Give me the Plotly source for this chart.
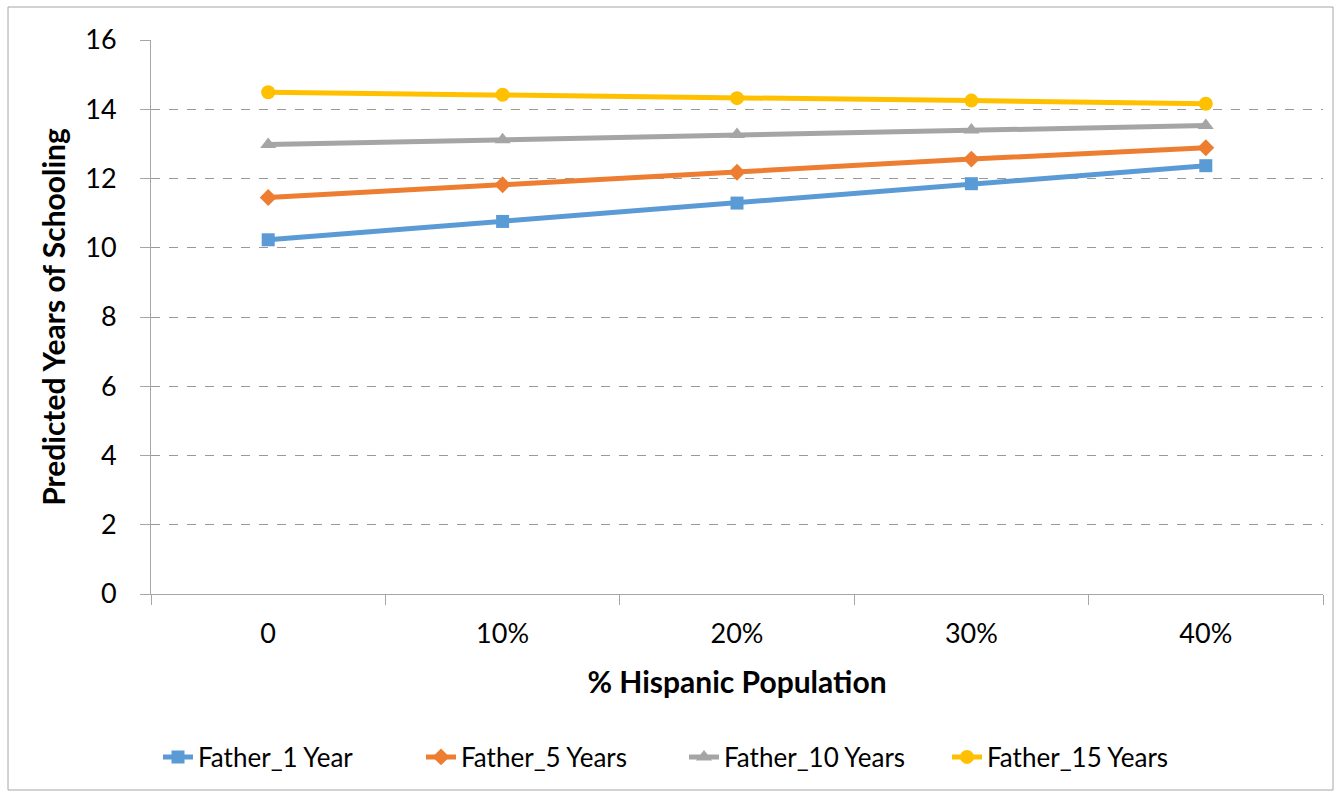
import plotly.graph_objects as go

categories = ["0", "10%", "20%", "30%", "40%"]
father_1 = [10.23, 10.76, 11.29, 11.85, 12.37]
father_5 = [11.45, 11.82, 12.18, 12.56, 12.89]
father_10 = [12.98, 13.12, 13.27, 13.40, 13.53]
father_15 = [14.49, 14.42, 14.32, 14.25, 14.16]

series = [
    ("Father_1 Year", father_1, "#5B9BD5", "square", 13),
    ("Father_5 Years", father_5, "#ED7D31", "diamond", 13),
    ("Father_10 Years", father_10, "#A5A5A5", "triangle-up", 14),
    ("Father_15 Years", father_15, "#FFC000", "circle", 14),
]

FONT = "Lato, Carlito, Calibri, sans-serif"

fig = go.Figure()
for name, vals, color, sym, size in series:
    fig.add_trace(go.Scatter(
        x=categories, y=vals, name=name, mode="lines+markers",
        line=dict(color=color, width=5),
        marker=dict(symbol=sym, size=size, color=color),
    ))

W, H = 1335, 793
L, R, T, B = 151, 12, 40, 199
pw, ph = W - L - R, H - T - B

def px(x):
    return (x - L) / pw

def py(y):
    return (H - B - y) / ph

fig.update_layout(
    width=W, height=H,
    margin=dict(l=L, r=R, t=T, b=B, autoexpand=False),
    paper_bgcolor="white", plot_bgcolor="white",
    font=dict(family=FONT, size=27, color="black"),
    showlegend=True,
    legend=dict(orientation="h", x=px(684), xanchor="center", y=py(757), yanchor="middle",
                font=dict(size=26, family=FONT), traceorder="normal",
                entrywidth=218, entrywidthmode="pixels"),
    xaxis=dict(
        type="category", tickson="boundaries", ticks="outside", ticklen=10,
        tickcolor="#A6A6A6", showline=True, linecolor="#A6A6A6", linewidth=1,
        showgrid=False, tickfont=dict(size=27), ticklabelstandoff=16,
        title=dict(text="<b>% Hispanic Population</b>", font=dict(size=30), standoff=23),
        range=[-0.5, 4.5],
    ),
    yaxis=dict(
        range=[0, 16], tickvals=[0, 2, 4, 6, 8, 10, 12, 14, 16],
        ticks="outside", ticklen=10, tickcolor="#A6A6A6",
        showline=True, linecolor="#A6A6A6", linewidth=1,
        showgrid=True, gridcolor="#999999", griddash="dash", gridwidth=1,
        zeroline=False, tickfont=dict(size=27), ticklabelstandoff=18,
        title=dict(text="<b>Predicted Years of Schooling</b>", font=dict(size=30), standoff=10),
    ),
    shapes=[dict(type="rect", xref="paper", yref="paper",
                 x0=px(8), x1=px(1333), y0=py(790), y1=py(7),
                 line=dict(color="#A6A6A6", width=1), fillcolor="rgba(0,0,0,0)", layer="below")],
)

fig.write_html("out.html")
